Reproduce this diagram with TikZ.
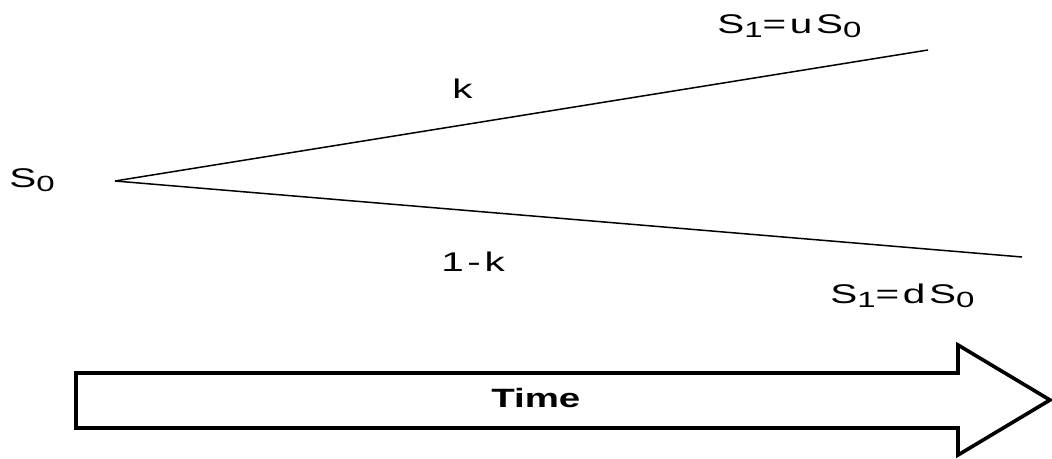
\documentclass[tikz,border=0pt]{standalone}
\usepackage{fontspec}
\setmainfont{Liberation Sans}
\usetikzlibrary{positioning}
\definecolor{ink}{HTML}{000000}
\newcommand{\lowidx}[1]{\raisebox{-4pt}{\fontsize{22}{23}\selectfont #1}}

\begin{document}
\begin{tikzpicture}[x=1pt, y=-1pt,
  lbl/.style={font=\fontsize{27}{30}\selectfont\addfontfeature{LetterSpace=9}, text=ink, inner sep=0pt, anchor=base west, xscale=1.5},
  timelbl/.style={font=\fontsize{26.5}{30}\selectfont\bfseries, text=ink, inner sep=0pt, anchor=base west, xscale=1.45},
  branch/.style={line width=1.5pt, draw=ink},
  timearrow/.style={line width=3.6pt, draw=ink, fill=white, line join=miter}]
\useasboundingbox (0,0) rectangle (1052,458);
% ---------------- tree
\coordinate (root) at (115,181);
\coordinate (upend) at (928,50);
\coordinate (downend) at (1022,257);
\draw[branch] (root) -- (upend);
\draw[branch] (root) -- (downend);
\node[lbl] (s0) at (9,187) {S\lowidx{0}};
\node[lbl] (up) at (717,33) {S\lowidx{1}=uS\lowidx{0}};
\node[lbl] (down) at (830,303) {S\lowidx{1}=dS\lowidx{0}};
\node[lbl] (pk) at (452,98) {k};
\node[lbl] (qk) at (441,271) {1-k};
% ---------------- time arrow
\draw[timearrow] (76,373) -- (958,373) -- (958,345) -- (1050,400) -- (958,455) -- (958,428) -- (76,428) -- cycle;
\node[timelbl] (time) at (491,407) {Time};
\end{tikzpicture}
\end{document}
